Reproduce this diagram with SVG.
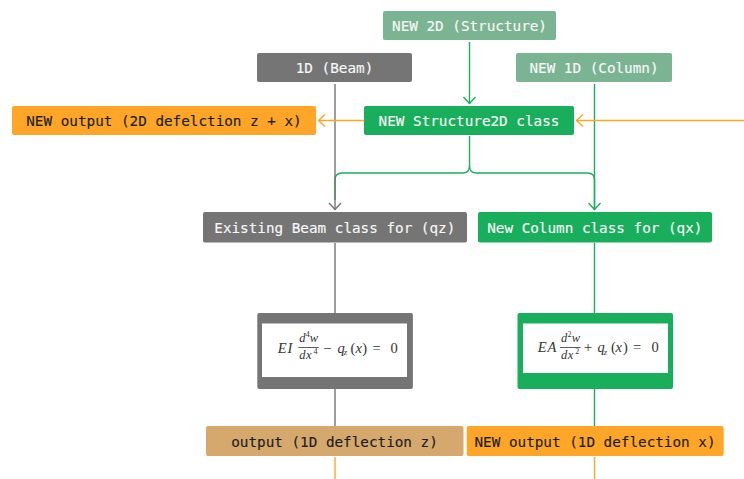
<svg xmlns="http://www.w3.org/2000/svg" width="744" height="479" viewBox="0 0 744 479">
<style>
.lbl{font-family:"DejaVu Sans Mono","Liberation Mono",monospace;font-size:14.3px;text-anchor:middle;stroke-width:0.15px}
.lt{fill:#f7f7f7;stroke:#f7f7f7}
.dk{fill:#1e1e1e;stroke:#1e1e1e}
.grey{fill:#757575}
.mgreen{fill:#7bb493}
.green{fill:#19ae5b}
.orange{fill:#ffa629}
.tan{fill:#d5a86e}
.ln{fill:none;stroke-width:1.4}
.g{stroke:#757575}
.gr{stroke:#19ae5b}
.o{stroke:#ffa629}
.eq{font-family:"Liberation Serif","DejaVu Serif",serif;fill:#333}
.m{font-size:14.5px}
.f{font-size:12.5px}
.s{font-size:8px}
.sub{font-size:8.5px}
.it{font-style:italic}
.fl{stroke:#333;stroke-width:0.8}
</style>
<rect width="744" height="479" fill="#ffffff"/>

<g id="connectors">
  <path class="ln gr" d="M469.5 42 V104"/>
  <path class="ln gr" d="M463.5 97 L469.5 103.5 L475.5 97"/>
  <path class="ln gr" d="M469.5 136 V166 Q469.5 173 462.5 173 H342 Q335 173 335 180 V200"/>
  <path class="ln gr" d="M469.5 166 Q469.5 173 476.5 173 H587.5 Q594.5 173 594.5 180 V210"/>
  <path class="ln g" d="M335 84 V210"/>
  <path class="ln g" d="M329 203 L335 209.5 L341 203"/>
  <path class="ln gr" d="M594.5 84 V210"/>
  <path class="ln gr" d="M588.5 203 L594.5 209.5 L600.5 203"/>
  <path class="ln o" d="M744 120.5 H577"/>
  <path class="ln o" d="M583 114.5 L576.5 120.5 L583 126.5"/>
  <path class="ln o" d="M364 120.5 H319"/>
  <path class="ln o" d="M325 114.5 L318.5 120.5 L325 126.5"/>
  <path class="ln g" d="M335 243 V313"/>
  <path class="ln g" d="M335 389 V426"/>
  <path class="ln gr" d="M594.5 243 V313"/>
  <path class="ln gr" d="M594.5 389 V426"/>
  <path class="ln o" d="M335 457 V479"/>
  <path class="ln o" d="M594.5 457 V479"/>
</g>

<g id="node-2d-structure">
  <rect class="mgreen" x="383" y="11" width="173" height="29" rx="2"/>
  <text class="lbl lt" x="469.5" y="31">NEW 2D (Structure)</text>
</g>

<g id="node-1d-beam">
  <rect class="grey" x="257" y="53" width="155" height="29" rx="2"/>
  <text class="lbl lt" x="334.5" y="73">1D (Beam)</text>
</g>

<g id="node-1d-column">
  <rect class="mgreen" x="516" y="53" width="156" height="29" rx="2"/>
  <text class="lbl lt" x="594" y="73">NEW 1D (Column)</text>
</g>

<g id="node-output-2d">
  <rect class="orange" x="12" y="106" width="304" height="29" rx="2"/>
  <text class="lbl dk" x="164" y="126">NEW output (2D defelction z + x)</text>
</g>

<g id="node-structure2d">
  <rect class="green" x="364" y="106" width="210" height="29" rx="2"/>
  <text class="lbl lt" x="469" y="126">NEW Structure2D class</text>
</g>

<g id="node-beam-class">
  <rect class="grey" x="203" y="212" width="264" height="30.5" rx="2"/>
  <text class="lbl lt" x="334.8" y="233">Existing Beam class for (qz)</text>
</g>

<g id="node-column-class">
  <rect class="green" x="478" y="212" width="234" height="30.5" rx="2"/>
  <text class="lbl lt" x="594.8" y="233">New Column class for (qx)</text>
</g>

<g id="node-beam-eq">
  <rect class="grey" x="257.3" y="313" width="155.6" height="76" rx="2"/>
  <rect fill="#ffffff" x="262" y="323.5" width="145" height="53.5"/>
  <text class="eq m it" y="352.5"><tspan x="277.8">E</tspan><tspan x="287.6">I</tspan></text>
  <text class="eq f" y="342"><tspan class="it" x="299.2">d</tspan><tspan class="s" x="305.8" dy="-5">4</tspan><tspan class="it" x="309.7" dy="5">w</tspan></text>
  <line class="fl" x1="298.4" y1="347.5" x2="318.6" y2="347.5"/>
  <text class="eq f" y="358.5"><tspan class="it" x="299.2">d</tspan><tspan class="it" x="306">x</tspan><tspan class="s" x="313.6" dy="-5">4</tspan></text>
  <text class="eq m" y="352.5"><tspan x="323.2">−</tspan><tspan class="it" x="337.4">q</tspan><tspan class="it sub" x="343.8" dy="2.5">z</tspan><tspan x="350.5" dy="-2.5">(</tspan><tspan class="it" x="355.4">x</tspan><tspan x="362.2">)</tspan><tspan x="372.5">=</tspan><tspan x="390.6">0</tspan></text>
</g>

<g id="node-column-eq">
  <rect class="green" x="517.5" y="313" width="155.5" height="76" rx="2"/>
  <rect fill="#ffffff" x="523" y="323.5" width="145" height="49.5"/>
  <text class="eq m it" y="352"><tspan x="537.8">E</tspan><tspan x="547.4">A</tspan></text>
  <text class="eq f" y="341.5"><tspan class="it" x="561">d</tspan><tspan class="s" x="567.6" dy="-5">2</tspan><tspan class="it" x="571.7" dy="5">w</tspan></text>
  <line class="fl" x1="560.1" y1="347.5" x2="580.7" y2="347.5"/>
  <text class="eq f" y="358.5"><tspan class="it" x="561">d</tspan><tspan class="it" x="567.8">x</tspan><tspan class="s" x="575.2" dy="-5">2</tspan></text>
  <text class="eq m" y="352"><tspan x="584">+</tspan><tspan class="it" x="597.4">q</tspan><tspan class="it sub" x="603.8" dy="2.5">z</tspan><tspan x="610.9" dy="-2.5">(</tspan><tspan class="it" x="615.6">x</tspan><tspan x="622.9">)</tspan><tspan x="633">=</tspan><tspan x="651.6">0</tspan></text>
</g>

<g id="node-output-z">
  <rect class="tan" x="206" y="426" width="257.5" height="30" rx="2"/>
  <text class="lbl dk" x="334.5" y="446.5">output (1D deflection z)</text>
</g>

<g id="node-output-x">
  <rect class="orange" x="466.7" y="426" width="257" height="30" rx="2"/>
  <text class="lbl dk" x="595" y="446.5">NEW output (1D deflection x)</text>
</g>
</svg>
